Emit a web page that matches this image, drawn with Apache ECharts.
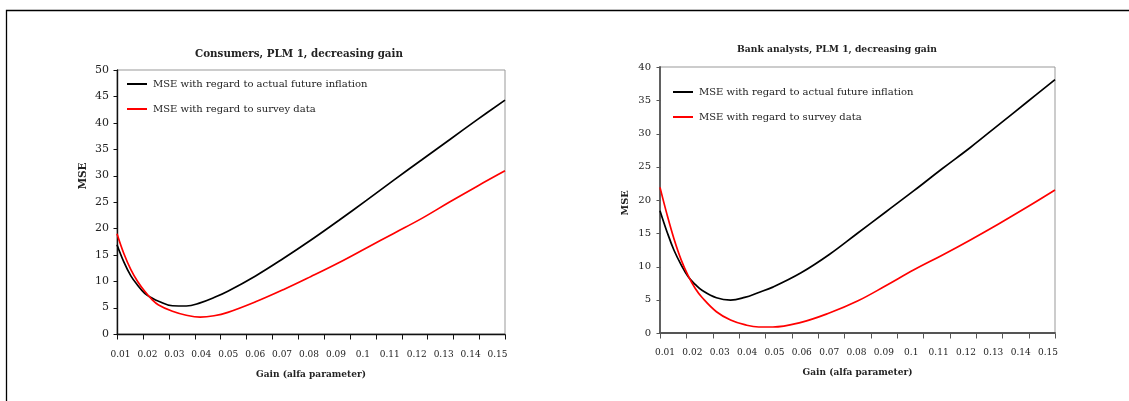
<!DOCTYPE html>
<html>
<head>
<meta charset="utf-8">
<script src="https://cdn.jsdelivr.net/npm/echarts@6/dist/echarts.min.js"></script>
<style>
	html, body { margin: 0; padding: 0; background: #fff; }
	#chart { width: 1129px; height: 401px; }
</style>
</head>
<body>
<div id="chart"></div>
<script>
// gain (alfa parameter) values where the curves are sampled
const gains = [0.01, 0.0125, 0.015, 0.0175, 0.02, 0.0225, 0.025, 0.03, 0.035, 0.04, 0.045, 0.05,
	0.06, 0.07, 0.08, 0.09, 0.1, 0.11, 0.12, 0.13, 0.14, 0.15]

// Consumers, PLM 1, decreasing gain
const consumerActual = [16.9, 13.6, 11.0, 9.2, 7.7, 6.85, 6.2, 5.35, 5.3, 5.9, 6.9, 8.1,
	11.0, 14.3, 17.8, 21.5, 25.3, 29.2, 33.0, 36.8, 40.6, 44.3]
const consumerSurvey = [19.0, 15.2, 12.2, 9.9, 8.1, 6.6, 5.5, 4.3, 3.55, 3.2, 3.45, 4.1,
	6.1, 8.4, 10.9, 13.5, 16.3, 19.1, 21.9, 25.0, 28.0, 30.9]

// Bank analysts, PLM 1, decreasing gain
const bankActual = [18.4, 15.2, 12.4, 10.25, 8.45, 7.3, 6.4, 5.3, 4.95, 5.35, 6.1, 6.9,
	9.05, 11.8, 15.0, 18.2, 21.4, 24.7, 27.9, 31.3, 34.7, 38.1]
const bankSurvey = [21.9, 17.8, 14.1, 11.0, 8.6, 6.7, 5.3, 3.2, 1.95, 1.25, 0.9, 0.9,
	1.6, 3.0, 4.8, 7.1, 9.5, 11.7, 14.0, 16.4, 18.9, 21.5]

// tick labels under the x axis
const xTicks = [0.01, 0.02, 0.03, 0.04, 0.05, 0.06, 0.07, 0.08, 0.09, 0.1, 0.11, 0.12, 0.13, 0.14, 0.15]
// y tick values
const consumerYTicks = [0, 5, 10, 15, 20, 25, 30, 35, 40, 45, 50]
const bankYTicks = [0, 5, 10, 15, 20, 25, 30, 35, 40]

const nameActual = 'MSE with regard to actual future inflation'
const nameSurvey = 'MSE with regard to survey data'

const serif = '"DejaVu Serif", serif'
const ink = '#222'

const gainMin = 0.01
const gainMax = 0.15
// the excel axis has 15 slots, so 16 tick marks between 0.01 and 0.15
const tickMarks = Array.from({ length: xTicks.length + 1 }, (_, i) => gainMin + (i * (gainMax - gainMin)) / xTicks.length)

const myChart = echarts.init(document.getElementById('chart'), null, { renderer: 'canvas' })

const pairs = (ys) => gains.map((g, i) => [g, ys[i]])
const fmt = (v) => String(Number(v.toFixed(2)))

// data axis: line and name
const dataAxis = (grid, lineColor, lineWidth, nameGap) => ({
	type: 'value',
	gridIndex: grid,
	min: gainMin,
	max: gainMax,
	axisLine: { show: true, lineStyle: { color: lineColor, width: lineWidth } },
	axisTick: { show: false },
	axisLabel: { show: false },
	splitLine: { show: false },
	name: 'Gain (alfa parameter)',
	nameLocation: 'middle',
	nameGap: nameGap,
	nameTextStyle: { fontFamily: serif, fontWeight: 'bold', fontSize: 9, color: ink },
})

// labels only, spread like the excel label row
const labelAxis = (grid, min, max, margin) => ({
	type: 'value',
	gridIndex: grid,
	position: 'bottom',
	min: min,
	max: max,
	axisLine: { show: false },
	axisTick: { show: false },
	splitLine: { show: false },
	axisLabel: { customValues: xTicks, margin: margin, fontFamily: serif, fontSize: 9, color: ink, formatter: fmt },
})

const yAxisOf = (grid, max, lineColor, lineWidth, fontSize, margin) => ({
	type: 'value',
	gridIndex: grid,
	min: 0,
	max: max,
	interval: 5,
	axisLine: { show: true, lineStyle: { color: lineColor, width: lineWidth } },
	axisTick: { show: false },
	axisLabel: { fontFamily: serif, fontSize: fontSize, color: ink, margin: margin },
	splitLine: { show: false },
})

const legendOf = (left, top) => ({
	orient: 'vertical',
	left: left,
	top: top,
	padding: 0,
	itemGap: 13,
	itemWidth: 20,
	itemHeight: 2,
	icon: 'rect',
	data: [nameActual, nameSurvey],
	textStyle: { fontFamily: serif, fontSize: 10, color: ink, lineHeight: 12, padding: [0, 0, 0, 1] },
})

const lineOf = (name, color, xi, yi, ys) => ({
	name: name,
	type: 'line',
	xAxisIndex: xi,
	yAxisIndex: yi,
	data: pairs(ys),
	symbol: 'none',
	smooth: 0.4,
	color: color,
	lineStyle: { color: color, width: 1.7 },
})

// tick marks drawn through the axes' own scale: down from the x axis, left from the y axis
const ticksOf = (xi, yi, data, dx, dy, color) => ({
	type: 'custom',
	xAxisIndex: xi,
	yAxisIndex: yi,
	silent: true,
	clip: false,
	z: 5,
	data: data,
	renderItem: (params, api) => {
		const p = api.coord([api.value(0), api.value(1)])
		const x = Math.round(p[0]) + 0.5
		const y = Math.round(p[1]) + 0.5
		return {
			type: 'line',
			shape: { x1: x, y1: y, x2: x + dx, y2: y + dy },
			style: { stroke: color, lineWidth: 1 },
		}
	},
})

const textOf = (text, x, y, size, rotation) => ({
	type: 'text',
	x: x,
	y: y,
	rotation: rotation || 0,
	style: {
		text: text,
		font: `bold ${size}px ${serif}`,
		fill: ink,
		align: 'center',
		verticalAlign: 'middle',
	},
})

let option = {
	animation: false,
	backgroundColor: '#fff',
	grid: [
		{ left: 117, right: 624, top: 70, bottom: 67, show: true, borderColor: '#999', borderWidth: 1 },
		{ left: 660, right: 74, top: 67, bottom: 68, show: true, borderColor: '#999', borderWidth: 1 },
	],
	xAxis: [
		dataAxis(0, '#111', 1.4, 36),
		labelAxis(0, 0.0087, 0.15278, 16),
		dataAxis(1, '#555', 1.8, 35),
		labelAxis(1, 0.00817, 0.15254, 15),
	],
	yAxis: [
		yAxisOf(0, 50, '#111', 1.4, 11, 8),
		yAxisOf(1, 40, '#555', 1.8, 10, 9),
	],
	legend: [legendOf(127, 78), legendOf(673, 86)],
	series: [
		lineOf(nameActual, '#000', 0, 0, consumerActual),
		lineOf(nameSurvey, '#ff0000', 0, 0, consumerSurvey),
		lineOf(nameActual, '#000', 2, 1, bankActual),
		lineOf(nameSurvey, '#ff0000', 2, 1, bankSurvey),
		ticksOf(0, 0, tickMarks.map((v) => [v, 0]), 0, 5, '#111'),
		ticksOf(0, 0, consumerYTicks.map((v) => [gainMin, v]), -4, 0, '#111'),
		ticksOf(2, 1, tickMarks.map((v) => [v, 0]), 0, 5, '#555'),
		ticksOf(2, 1, bankYTicks.map((v) => [gainMin, v]), -4, 0, '#555'),
	],
	graphic: [
		{
			type: 'rect',
			shape: { x: 6.5, y: 10.5, width: 1300, height: 600 },
			style: { fill: 'none', stroke: '#000', lineWidth: 1.3 },
			silent: true,
		},
		textOf('Consumers, PLM 1, decreasing gain', 299, 54, 10.3),
		textOf('Bank analysts, PLM 1, decreasing gain', 837, 50, 9.2),
		textOf('MSE', 83, 176, 10.5, Math.PI / 2),
		textOf('MSE', 625, 203, 9.7, Math.PI / 2),
	],
}
myChart.setOption(option)

window.addEventListener('resize', () => {
	myChart.resize()
})
</script>
</body>
</html>
